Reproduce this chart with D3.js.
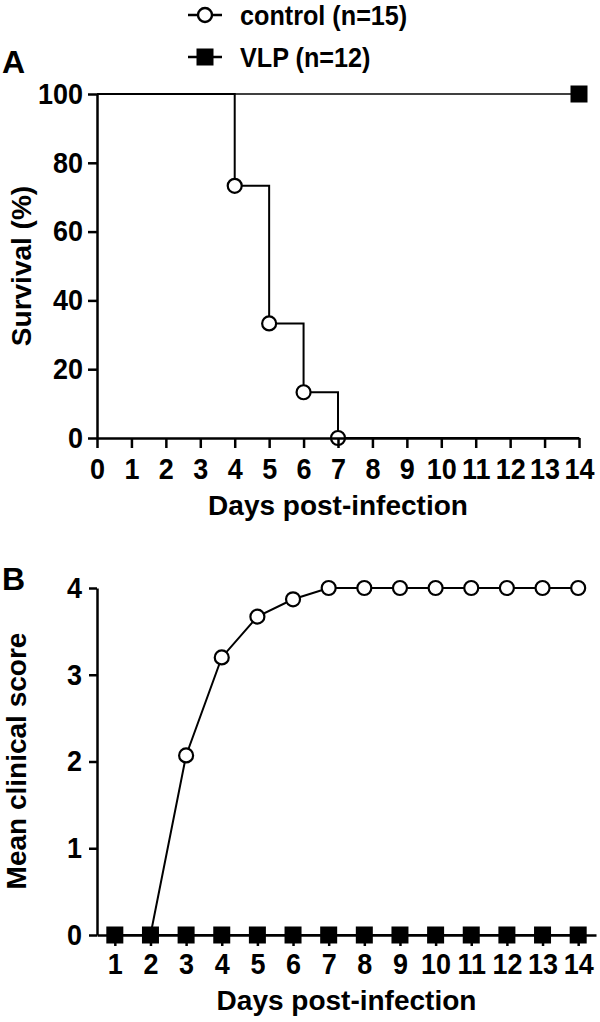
<!DOCTYPE html>
<html><head><meta charset="utf-8">
<script src="https://cdn.jsdelivr.net/npm/d3@7"></script>
<style>
html,body{margin:0;padding:0;background:#fff;}
svg text{font-family:"Liberation Sans",Arial,sans-serif;font-weight:bold;fill:#000;}
</style></head>
<body>
<svg id="chart" width="600" height="1022"></svg>
<script>
// ---- data ----
const legendLabels = ["control (n=15)", "VLP (n=12)"];
const survivalTicksX = [0,1,2,3,4,5,6,7,8,9,10,11,12,13,14];
const survivalTicksY = [0,20,40,60,80,100];
const controlSurvDays = [0,4,5,6,7,14];
const controlSurv = [100,73.3,33.3,13.3,0,0];
const controlSurvMarkDays = [4,5,6,7];
const controlSurvMarks = [73.3,33.3,13.3,0];
const vlpSurvDays = [0,14];
const vlpSurv = [100,100];
const vlpSurvMarkDays = [14];
const vlpSurvMarks = [100];

const scoreDays = [1,2,3,4,5,6,7,8,9,10,11,12,13,14];
const controlScore = [0,0,2.07,3.2,3.67,3.87,4,4,4,4,4,4,4,4];
const vlpScore = [0,0,0,0,0,0,0,0,0,0,0,0,0,0];
const scoreTicksY = [0,1,2,3,4];

const svg = d3.select("#chart");
const SX = 0.93;

function markers(g, xs, ys, x, y, type){
  const pts = xs.map((d,i)=>[x(d), y(ys[i])]);
  if(type==="circle"){
    g.selectAll(null).data(pts).enter().append("circle")
      .attr("cx",d=>d[0]).attr("cy",d=>d[1]).attr("r",7)
      .attr("fill","#fff").attr("stroke","#000").attr("stroke-width",2.2);
  } else {
    const s=17;
    g.selectAll(null).data(pts).enter().append("rect")
      .attr("x",d=>d[0]-s/2).attr("y",d=>d[1]-s/2).attr("width",s).attr("height",s)
      .attr("fill","#000");
  }
}
function styleAxis(g, fs, left){
  g.selectAll("path,line").attr("stroke","#000").attr("stroke-width",2.5);
  g.selectAll("text").attr("font-size",fs).attr("font-family",'"Liberation Sans",Arial,sans-serif')
    .attr("font-weight","bold").attr("fill","#000")
    .attr("transform",`scale(${SX},1)`);
  if(left){
    g.selectAll("text").attr("x", function(){ return +d3.select(this).attr("x")/SX; });
  }
}

// ---- legend ----
const leg = svg.append("g");
legendLabels.forEach((lab,i)=>{
  const cy = i===0 ? 15 : 57;
  leg.append("line").attr("x1",188).attr("x2",222).attr("y1",cy).attr("y2",cy).attr("stroke","#000").attr("stroke-width",2.5);
  if(i===0) leg.append("circle").attr("cx",205).attr("cy",cy).attr("r",7).attr("fill","#fff").attr("stroke","#000").attr("stroke-width",2.4);
  else leg.append("rect").attr("x",205-8.5).attr("y",cy-8.5).attr("width",17).attr("height",17).attr("fill","#000");
  leg.append("text").attr("transform",`translate(240,${cy+10}) scale(0.9,1)`).attr("font-size",28).text(lab);
});

// ---- panel A ----
svg.append("text").attr("x",2).attr("y",73).attr("font-size",32).text("A");
const xA = d3.scaleLinear().domain([0,14]).range([97,579]);
const yA = d3.scaleLinear().domain([0,100]).range([438,94]);
const gA = svg.append("g");
const lineA = d3.line().x(d=>xA(d[0])).y(d=>yA(d[1])).curve(d3.curveStepAfter);
gA.append("path").attr("d",lineA(vlpSurvDays.map((d,i)=>[d,vlpSurv[i]])))
  .attr("fill","none").attr("stroke","#000").attr("stroke-width",1.5);
gA.append("path").attr("d",lineA(controlSurvDays.map((d,i)=>[d,controlSurv[i]])))
  .attr("fill","none").attr("stroke","#000").attr("stroke-width",2);
const axAx = svg.append("g").attr("transform","translate(0,438)")
  .call(d3.axisBottom(xA).tickValues(survivalTicksX).tickSize(10).tickSizeOuter(0).tickPadding(10).tickFormat(d3.format("d")));
styleAxis(axAx,29,false);
const axAy = svg.append("g").attr("transform","translate(97,0)")
  .call(d3.axisLeft(yA).tickValues(survivalTicksY).tickSize(9).tickSizeOuter(0).tickPadding(5).tickFormat(d3.format("d")));
styleAxis(axAy,29,true);
markers(gA.append("g"), controlSurvMarkDays, controlSurvMarks, xA, yA, "circle");
markers(gA.append("g"), vlpSurvMarkDays, vlpSurvMarks, xA, yA, "square");
svg.append("text").attr("x",(97+579)/2).attr("y",515).attr("text-anchor","middle").attr("font-size",28).text("Days post-infection");
svg.append("text").attr("transform","translate(31,266) rotate(-90)").attr("text-anchor","middle").attr("font-size",28).text("Survival (%)");

// ---- panel B ----
svg.append("text").attr("x",2).attr("y",590).attr("font-size",32).text("B");
const xB = d3.scaleLinear().domain([0.5,14.5]).range([97,596]);
const yB = d3.scaleLinear().domain([0,4]).range([935,588]);
const axBx = svg.append("g").attr("transform","translate(0,935)")
  .call(d3.axisBottom(xB).tickValues(scoreDays).tickSize(11).tickSizeOuter(0).tickPadding(7).tickFormat(d3.format("d")));
styleAxis(axBx,29,false);
const axBy = svg.append("g").attr("transform","translate(97,0)")
  .call(d3.axisLeft(yB).tickValues(scoreTicksY).tickSize(8).tickSizeOuter(0).tickPadding(7).tickFormat(d3.format("d")));
styleAxis(axBy,29,true);
const gB = svg.append("g");
const lineB = d3.line().x(d=>xB(d[0])).y(d=>yB(d[1]));
gB.append("path").attr("d",lineB(scoreDays.map((d,i)=>[d,controlScore[i]])))
  .attr("fill","none").attr("stroke","#000").attr("stroke-width",2);
markers(gB.append("g"), scoreDays, controlScore, xB, yB, "circle");
gB.append("path").attr("d",lineB(scoreDays.map((d,i)=>[d,vlpScore[i]])))
  .attr("fill","none").attr("stroke","#000").attr("stroke-width",2);
markers(gB.append("g"), scoreDays, vlpScore, xB, yB, "square");
svg.append("text").attr("x",(97+596)/2).attr("y",1010).attr("text-anchor","middle").attr("font-size",28).text("Days post-infection");
svg.append("text").attr("transform","translate(26,761) rotate(-90)").attr("text-anchor","middle").attr("font-size",28).text("Mean clinical score");
</script>
</body></html>
